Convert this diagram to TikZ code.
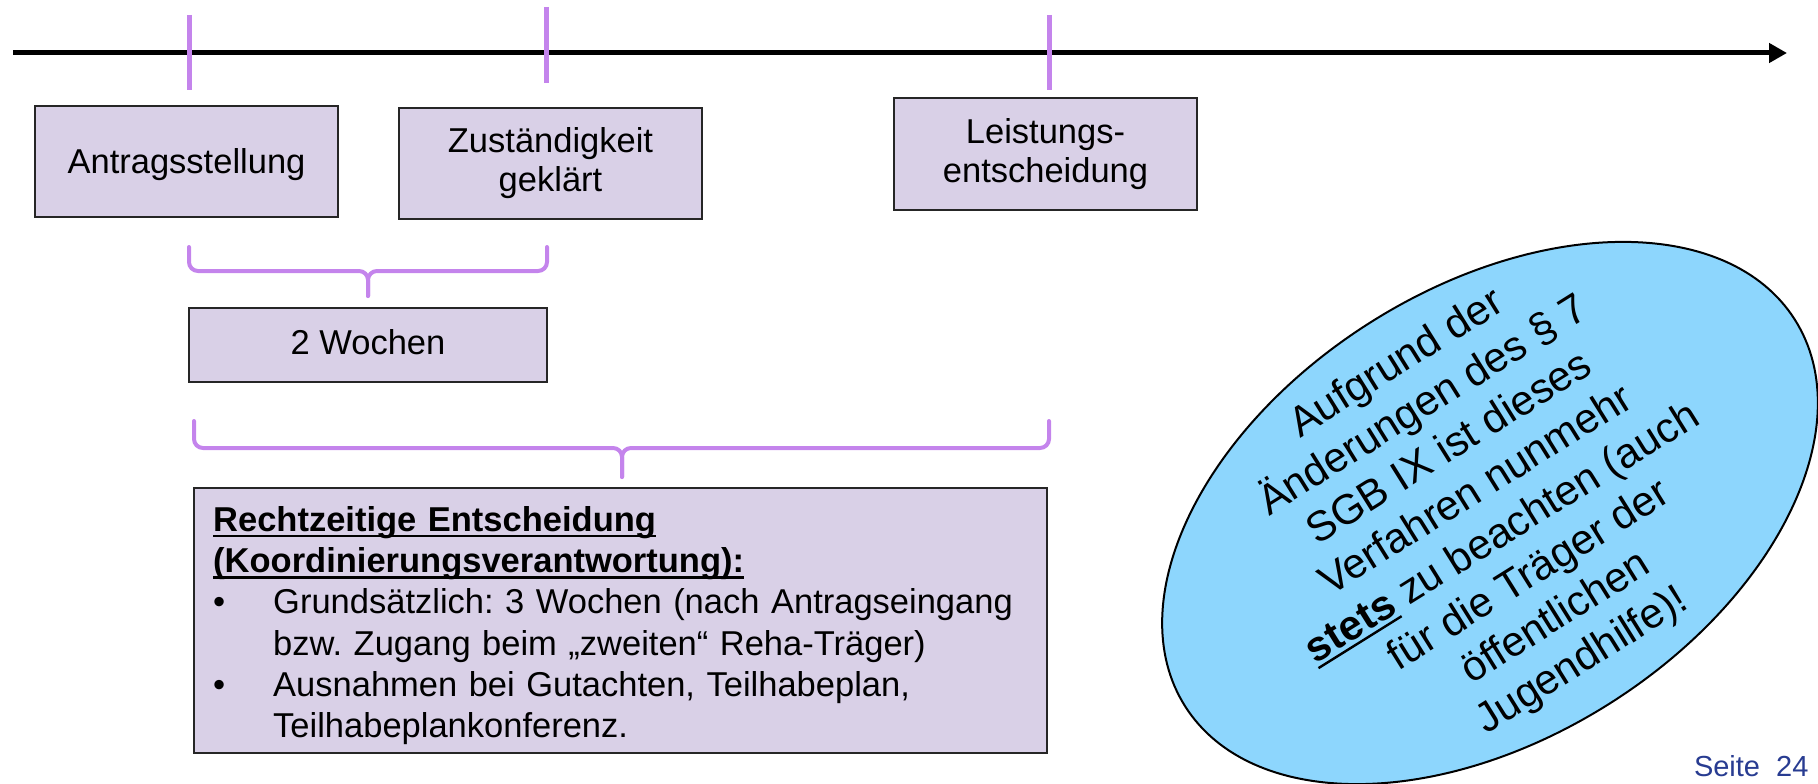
\documentclass[tikz,border=0pt]{standalone}
\usepackage{fontspec}
\setmainfont{Liberation Sans}
\frenchspacing
\usetikzlibrary{shapes.geometric}
\usetikzlibrary{arrows.meta}
\definecolor{boxlila}{RGB}{217,208,231}
\definecolor{ticklila}{RGB}{196,132,236}
\definecolor{hintblue}{RGB}{141,214,253}
\definecolor{seiteblue}{RGB}{40,60,145}
\newcommand\undl[1]{\leavevmode\setbox0\hbox{#1}\rlap{\rule[-6pt]{\wd0}{2.4pt}}\box0\relax}
\tikzset{
    timeline/.style={line width=5pt,-{Triangle[length=18pt,width=19pt]}},
    tickmark/.style={draw=ticklila,line width=5pt},
    tbrace/.style={draw=ticklila,line width=4pt,rounded corners=9pt,line cap=round},
    tlbox/.style={draw=black!85,line width=2pt,fill=boxlila,inner sep=0pt,align=center,
        font=\fontsize{34.5}{39.5}\selectfont},
    hint/.style={ellipse,draw=black,line width=2pt,fill=hintblue},
}

\begin{document}
\begin{tikzpicture}[x=1pt,y=-1pt]
\useasboundingbox (0,0) rectangle (1818,784);
\coordinate (tl start) at (13,53);
\coordinate (tl end) at (1787,53);
\draw[timeline] (tl start) -- (tl end);
\draw[tickmark] (189,15) -- (189,90);
\draw[tickmark] (546,7) -- (546,83);
\draw[tickmark] (1049,15) -- (1049,90);
\node[tlbox,minimum width=303pt,minimum height=111pt,text height=31pt,text depth=7pt] (antrag) at (186.5,161.5) {Antragsstellung};
\node[tlbox,minimum width=303pt,minimum height=111pt] (zust) at (550.5,163) {Zuständigkeit\\geklärt};
\node[tlbox,minimum width=303pt,minimum height=112pt] (leist) at (1045.5,154) {Leistungs-\\entscheidung};
\draw[tbrace] (189,247) |- (368,271) -- (368,296);
\draw[tbrace] (547,247) |- (368,271) -- (368,296);
\node[tlbox,minimum width=358pt,minimum height=74pt,text depth=7pt] (wochen) at (368,345) {2 Wochen};
\draw[tbrace] (194,421) |- (622,448) -- (622,477);
\draw[tbrace] (1049,421) |- (622,448) -- (622,477);
\node[tlbox,minimum width=853pt,minimum height=265pt] (recht) at (620.5,620.5) {};
\node[anchor=north west,inner sep=0pt,text width=813pt,align=left,
    font=\fontsize{34.5}{41.3}\selectfont] (rechttext) at ([shift={(20,19)}]recht.north west)
    {\undl{\textbf{Rechtzeitige Entscheidung}}\\
     \undl{\textbf{(Koordinierungsverantwortung):}}\\
     \makebox[60pt][l]{\textbullet}Grundsätzlich: 3 Wochen (nach Antragseingang\\
     \hspace*{60pt}bzw. Zugang beim „zweiten“ Reha-Träger)\\
     \makebox[60pt][l]{\textbullet}Ausnahmen bei Gutachten, Teilhabeplan,\\
     \hspace*{60pt}Teilhabeplankonferenz.};
\node[hint,minimum width=722pt,minimum height=450pt,rotate=32.4] (hint) at (1490,513) {};
\node[rotate=32,align=center,font=\fontsize{42}{50}\selectfont] (hinttext) at (hint.center)
    {Aufgrund der\\Änderungen des § 7\\SGB IX ist dieses\\Verfahren nunmehr\\
     \undl{\textbf{stets}} zu beachten (auch\\für die Träger der\\öffentlichen\\Jugendhilfe)!};
\node[anchor=base east,text=seiteblue,font=\fontsize{29}{35}\selectfont] (seite) at (1812,776) {Seite~~24};
\end{tikzpicture}
\end{document}
